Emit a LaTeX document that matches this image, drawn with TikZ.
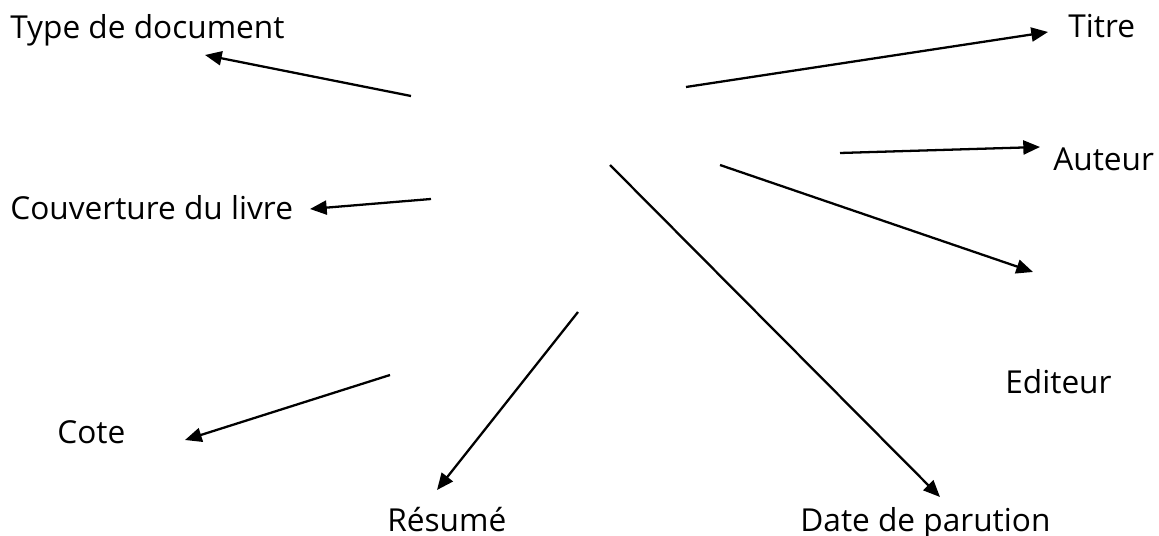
\documentclass[tikz,border=0pt]{standalone}
\usepackage{fontspec}
\setmainfont{Open Sans}
\usetikzlibrary{arrows.meta}
\tikzset{
  lbl/.style={anchor=base west,inner sep=0pt,font=\fontsize{18}{20}\selectfont},
  fleche/.style={line width=1.3pt,-{Triangle[length=9.5pt,width=8pt]}}
}
\begin{document}
\begin{tikzpicture}[x=0.02cm,y=-0.02cm]
  \useasboundingbox (0,0) rectangle (1159,536);

  % les rubriques
  \node[lbl] (type) at (10,39) {Type de document};
  \node[lbl] (titre) at (1068,38) {Titre};
  \node[lbl] (auteur) at (1053,171) {Auteur};
  \node[lbl] (couv) at (10,220) {Couverture du livre};
  \node[lbl] (editeur) at (1005,394) {Editeur};
  \node[lbl] (cote) at (57,444) {Cote};
  \node[lbl] (resume) at (387,531) {Résumé};
  \node[lbl] (date) at (800,531) {Date de parution};

  % departs des fleches
  \coordinate (d1) at (411,96);
  \coordinate (d2) at (686,87);
  \coordinate (d3) at (840,153);
  \coordinate (d4) at (431,199);
  \coordinate (d5) at (720,165);
  \coordinate (d6) at (610,165);
  \coordinate (d7) at (578,312);
  \coordinate (d8) at (390,375);

  % pointes des fleches
  \coordinate (p1) at (205,55);
  \coordinate (p2) at (1048,32);
  \coordinate (p3) at (1040,147);
  \coordinate (p4) at (310,209);
  \coordinate (p5) at (1033,272);
  \coordinate (p6) at (940,497);
  \coordinate (p7) at (437,490);
  \coordinate (p8) at (185,440);

  % fleches
  \draw[fleche] (d1) -- (p1);
  \draw[fleche] (d2) -- (p2);
  \draw[fleche] (d3) -- (p3);
  \draw[fleche] (d4) -- (p4);
  \draw[fleche] (d5) -- (p5);
  \draw[fleche] (d6) -- (p6);
  \draw[fleche] (d7) -- (p7);
  \draw[fleche] (d8) -- (p8);
\end{tikzpicture}
\end{document}
